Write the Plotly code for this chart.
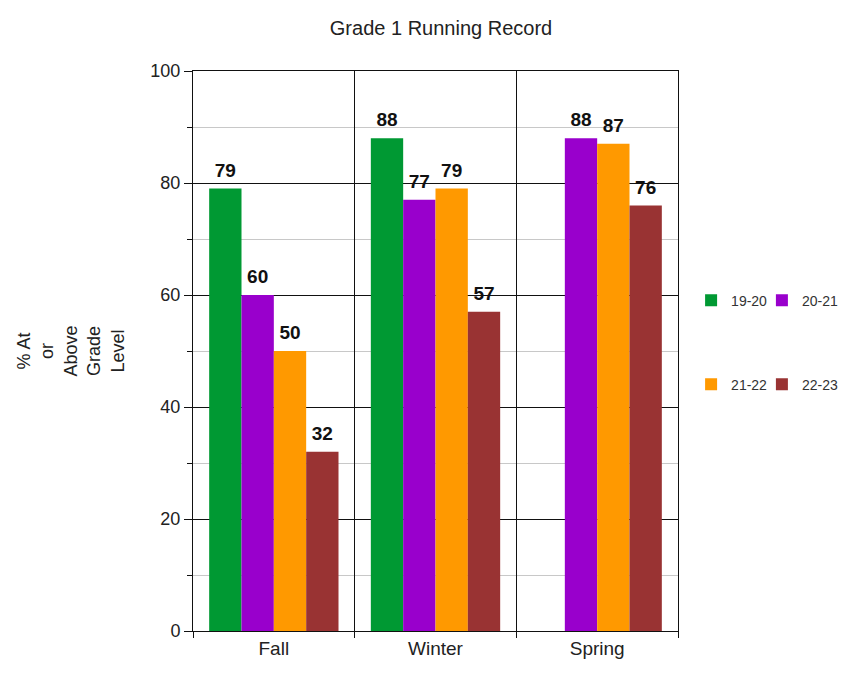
import plotly.graph_objects as go

seasons = ["Fall", "Winter", "Spring"]
series_names = ["19-20", "20-21", "21-22", "22-23"]
values = {
    "19-20": [79, 88, None],
    "20-21": [60, 77, 88],
    "21-22": [50, 79, 87],
    "22-23": [32, 57, 76],
}
colors = {"19-20": "#009933", "20-21": "#9900CC", "21-22": "#FF9900", "22-23": "#993333"}
legend_of = {"19-20": "legend", "20-21": "legend2", "21-22": "legend3", "22-23": "legend4"}

font_family = "Liberation Sans, Arial, sans-serif"

fig = go.Figure()
for name in series_names:
    fig.add_trace(go.Bar(
        x=seasons, y=values[name], name=name,
        marker=dict(color=colors[name], line=dict(width=0)),
        text=[("" if v is None else str(v)) for v in values[name]],
        textposition="outside", cliponaxis=False,
        textfont=dict(family=font_family, size=6, color="#111"),
        texttemplate="<span style='font-size:19px'><b>%{text}</b></span><br> ",
        legend=legend_of[name], showlegend=True,
    ))

def leg(x, y):
    return dict(orientation="h", x=x, y=y, xanchor="left", yanchor="middle",
                font=dict(size=14, color="#333"), bgcolor="rgba(0,0,0,0)", visible=True)

fig.update_layout(
    width=866, height=674, showlegend=True,
    paper_bgcolor="white", plot_bgcolor="white",
    margin=dict(l=185, r=196, t=63, b=51, autoexpand=False),
    barmode="group", bargap=0.2, bargroupgap=0,
    font=dict(family=font_family, size=18, color="#222"),
    title=dict(text="Grade 1 Running Record", x=0.5, xanchor="center", y=0.970, yanchor="middle",
               font=dict(size=20, color="#222")),
    legend=leg(1.027, 0.59),
    legend2=leg(1.173, 0.59),
    legend3=leg(1.027, 0.44),
    legend4=leg(1.173, 0.44),
    xaxis=dict(
        type="category", tickson="boundaries", showgrid=True, gridcolor="#111", gridwidth=1,
        ticks="outside", ticklen=6, tickcolor="#111",
        showline=True, linecolor="#111", linewidth=1, mirror=True,
        tickfont=dict(size=19, color="#222"),
    ),
    yaxis=dict(
        range=[0, 100], dtick=20, tick0=0, showgrid=True, gridcolor="#111", gridwidth=1,
        ticks="outside", ticklen=8, tickcolor="#111",
        showline=True, linecolor="#111", linewidth=1, mirror=True,
        zeroline=False,
        tickfont=dict(size=18, color="#222"),
        minor=dict(dtick=10, showgrid=True, gridcolor="#c8c8c8", ticks="outside", ticklen=5, tickcolor="#111"),
        title=dict(text="% At<br>or<br>Above<br>Grade<br>Level", standoff=21,
                   font=dict(size=18, color="#222")),
    ),
)
fig.write_html("out.html")
